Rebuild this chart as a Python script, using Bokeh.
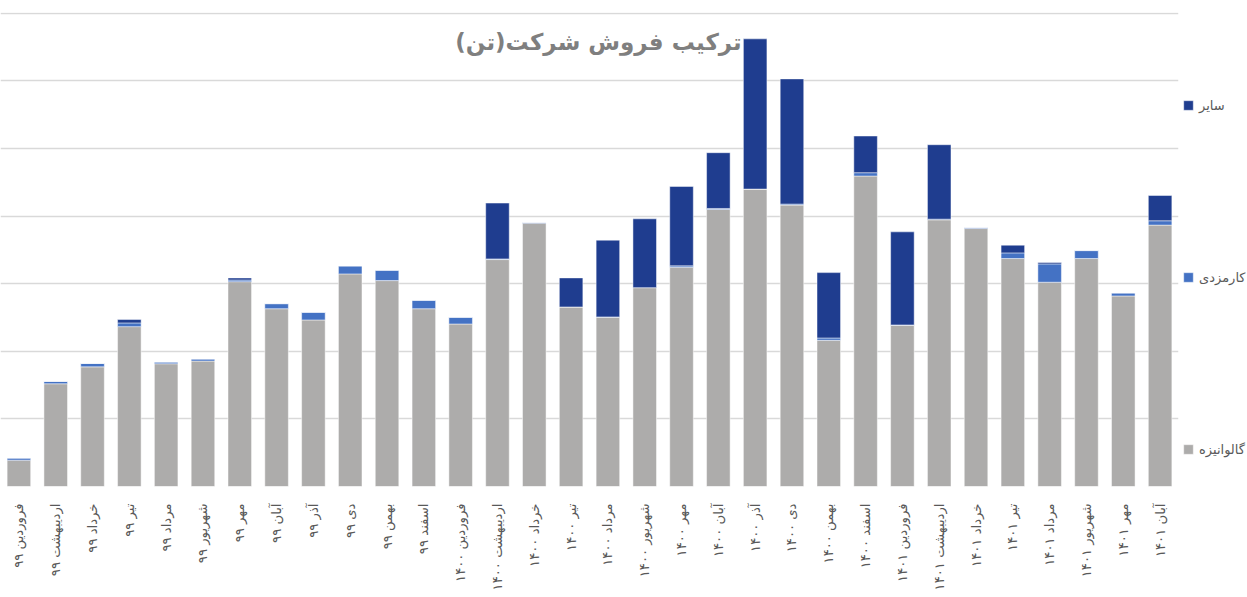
import math
from bokeh.plotting import figure
from bokeh.models import (ColumnDataSource, FactorRange, Range1d, FixedTicker,
                          Legend, LegendItem, Label)
from bokeh.embed import file_html
from bokeh.resources import INLINE

months = [
    "فروردین ۹۹", "اردیبهشت ۹۹", "خرداد ۹۹", "تیر ۹۹", "مرداد ۹۹", "شهریور ۹۹",
    "مهر ۹۹", "آبان ۹۹", "آذر ۹۹", "دی ۹۹", "بهمن ۹۹", "اسفند ۹۹",
    "فروردین ۱۴۰۰", "اردیبهشت ۱۴۰۰", "خرداد ۱۴۰۰", "تیر ۱۴۰۰", "مرداد ۱۴۰۰", "شهریور ۱۴۰۰",
    "مهر ۱۴۰۰", "آبان ۱۴۰۰", "آذر ۱۴۰۰", "دی ۱۴۰۰", "بهمن ۱۴۰۰", "اسفند ۱۴۰۰",
    "فروردین ۱۴۰۱", "اردیبهشت ۱۴۰۱", "خرداد ۱۴۰۱", "تیر ۱۴۰۱", "مرداد ۱۴۰۱", "شهریور ۱۴۰۱",
    "مهر ۱۴۰۱", "آبان ۱۴۰۱",
]

galvanized = [390, 1520, 1770, 2365, 1816, 1856, 3030, 2630, 2464, 3145, 3046, 2630,
              2404, 3357, 3896, 2656, 2504, 2942, 3244, 4098, 4400, 4163, 2163, 4593,
              2385, 3945, 3816, 3372, 3022, 3372, 2819, 3867]
tolling = [30, 35, 50, 55, 25, 30, 25, 75, 113, 118, 153, 124,
           99, 10, 10, 0, 5, 0, 20, 15, 0, 15, 34, 49,
           5, 10, 15, 84, 271, 118, 44, 64]
other = [0, 0, 0, 50, 0, 0, 30, 0, 0, 0, 0, 0,
         0, 826, 0, 430, 1135, 1018, 1175, 825, 2222, 1852, 967, 543,
         1377, 1101, 0, 114, 20, 0, 0, 374]

series_names = ["گالوانیزه", "کارمزدی", "سایر"]
title_text = "ترکیب فروش شرکت(تن)"
grid_ticks = [0, 1000, 2000, 3000, 4000, 5000, 6000, 7000]

colors = ["#adacab", "#4472c4", "#1f3d8f"]

source = ColumnDataSource(data=dict(month=months, g=galvanized, k=tolling, s=other))

p = figure(
    x_range=FactorRange(factors=months, range_padding=0),
    y_range=Range1d(0, 7012),
    frame_width=1178, frame_height=474,
    min_border_left=0, min_border_right=0, min_border_top=12, min_border_bottom=0,
    output_backend="svg", toolbar_location=None,
    background_fill_color="white", border_fill_color="white",
)
p.outline_line_color = None

renderers = p.vbar_stack(["g", "k", "s"], x="month", width=0.64, color=colors,
                         line_color="white", line_alpha=0.6, line_width=0.8,
                         source=source)

p.yaxis.visible = False
p.xgrid.visible = False
p.ygrid.ticker = FixedTicker(ticks=grid_ticks)
p.ygrid.grid_line_color = "#d9d9d9"
p.ygrid.grid_line_width = 1.5

ax = p.xaxis[0]
ax.axis_line_color = None
ax.major_tick_line_color = None
ax.minor_tick_line_color = None
ax.major_label_orientation = math.pi / 2
ax.major_label_text_font = "DejaVu Sans"
ax.major_label_text_font_size = "13.2px"
ax.major_label_text_color = "#595959"
ax.major_label_standoff = 11

legend = Legend(
    items=[
        LegendItem(label=series_names[2], renderers=[renderers[2]]),
        LegendItem(label=series_names[1], renderers=[renderers[1]]),
        LegendItem(label=series_names[0], renderers=[renderers[0]]),
    ],
    location=(4, 27),
    orientation="vertical",
    glyph_width=12, glyph_height=12, label_height=20,
    spacing=152, padding=0, margin=0, label_standoff=5,
    label_text_font="DejaVu Sans", label_text_font_size="13px",
    label_text_color="#595959",
    border_line_color=None, background_fill_alpha=0,
)
p.add_layout(legend, "right")

title = Label(x=598, y=445, x_units="screen", y_units="screen", text=title_text,
              text_font="DejaVu Sans", text_font_size="23px", text_font_style="bold",
              text_color="#7f7f7f", text_align="center", text_baseline="middle",
              level="overlay")
p.add_layout(title)

open("out.html", "w").write(file_html(p, INLINE))
